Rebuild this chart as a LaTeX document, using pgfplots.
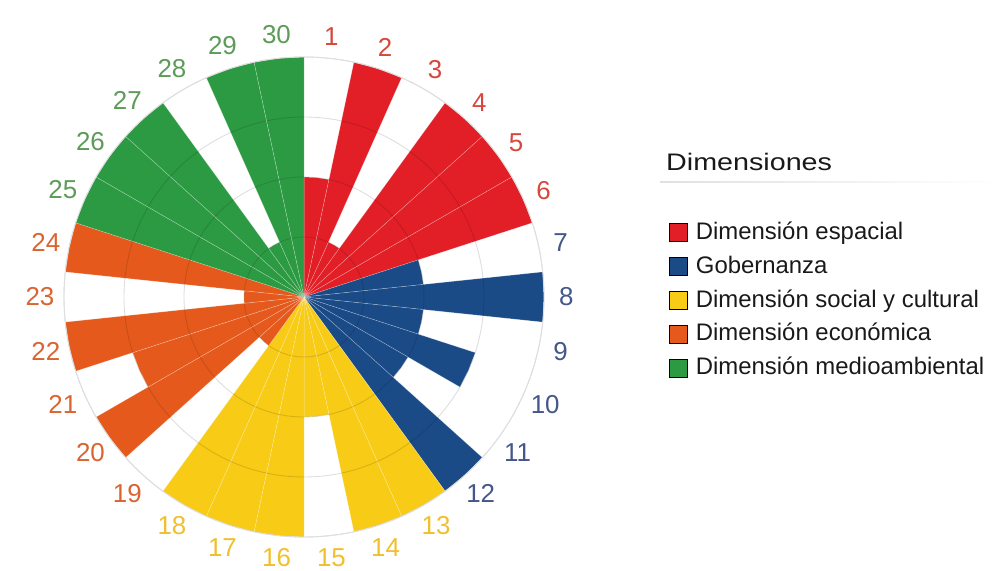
\documentclass[border=0pt]{standalone}
\usepackage{fontspec}
\setmainfont{Liberation Sans}
\newfontfamily\widefont[FakeStretch=1.2]{Liberation Sans}
\usepackage{pgfplots}
\pgfplotsset{compat=1.18}
\usepgfplotslibrary{polar}

% dimension colours (sectors)
\definecolor{espacial}{HTML}{E21E26}
\definecolor{gobernanza}{HTML}{1B4B87}
\definecolor{social}{HTML}{F8CB16}
\definecolor{economica}{HTML}{E55A1C}
\definecolor{ambiental}{HTML}{2C9A43}
% dimension colours (numbers round the rim)
\definecolor{espacialT}{HTML}{D6473D}
\definecolor{gobernanzaT}{HTML}{43578A}
\definecolor{socialT}{HTML}{F0BF2E}
\definecolor{economicaT}{HTML}{DA6431}
\definecolor{ambientalT}{HTML}{5C9B58}

\pgfplotsset{
  sector/.style={forget plot, fill=#1, draw=white, draw opacity=0.35, line width=0.5bp},
}

\begin{document}
\begin{tikzpicture}[x=1bp,y=1bp]
\path (0,0) rectangle (1003,568);
\begin{polaraxis}[
  at={(304bp,271bp)}, anchor=origin,
  scale only axis, width=480bp, height=480bp,
  xmin=0, xmax=360, ymin=0, ymax=4,
  xtick=\empty, ytick={1,2,3,4}, yticklabels={},
  major tick length=0pt,
  ymajorgrids, xmajorgrids=false,
  major grid style={draw=black, opacity=0.13, line width=0.9bp},
  axis line style={draw=black!13, line width=0.9bp},
  y axis line style={draw=none},
  axis on top, clip=false,
  legend style={at={(1.26,0.66)}, anchor=north west, draw=none, fill=none,
    font=\fontsize{24}{28}\selectfont, text=black!90, row sep=11.8bp,
    inner sep=0pt, nodes={inner sep=1.5bp, anchor=base west}},
  legend cell align=left,
  legend image code/.code={\fill[#1] (0bp,-2bp) rectangle (18bp,16bp);
    \path (25bp,0bp);},
]
\addlegendimage{fill=espacial}   \addlegendentry{Dimensión espacial}
\addlegendimage{fill=gobernanza} \addlegendentry{Gobernanza}
\addlegendimage{fill=social}     \addlegendentry{Dimensión social y cultural}
\addlegendimage{fill=economica}  \addlegendentry{Dimensión económica}
\addlegendimage{fill=ambiental}  \addlegendentry{Dimensión medioambiental}

% each sector: (start angle, 0) (start, value) (middle, value) (end, value) (end, 0)
% Dimensión espacial: 1-6
\addplot[sector=espacial] coordinates {(90,0) (90,2) (84,2) (78,2) (78,0)} -- cycle;
\addplot[sector=espacial] coordinates {(78,0) (78,4) (72,4) (66,4) (66,0)} -- cycle;
\addplot[sector=espacial] coordinates {(66,0) (66,1) (60,1) (54,1) (54,0)} -- cycle;
\addplot[sector=espacial] coordinates {(54,0) (54,4) (48,4) (42,4) (42,0)} -- cycle;
\addplot[sector=espacial] coordinates {(42,0) (42,4) (36,4) (30,4) (30,0)} -- cycle;
\addplot[sector=espacial] coordinates {(30,0) (30,4) (24,4) (18,4) (18,0)} -- cycle;
% Gobernanza: 7-12
\addplot[sector=gobernanza] coordinates {(18,0) (18,2) (12,2) (6,2) (6,0)} -- cycle;
\addplot[sector=gobernanza] coordinates {(6,0) (6,4) (0,4) (-6,4) (-6,0)} -- cycle;
\addplot[sector=gobernanza] coordinates {(-6,0) (-6,2) (-12,2) (-18,2) (-18,0)} -- cycle;
\addplot[sector=gobernanza] coordinates {(-18,0) (-18,3) (-24,3) (-30,3) (-30,0)} -- cycle;
\addplot[sector=gobernanza] coordinates {(-30,0) (-30,2) (-36,2) (-42,2) (-42,0)} -- cycle;
\addplot[sector=gobernanza] coordinates {(-42,0) (-42,4) (-48,4) (-54,4) (-54,0)} -- cycle;
% Dimensión social y cultural: 13-18
\addplot[sector=social] coordinates {(-54,0) (-54,4) (-60,4) (-66,4) (-66,0)} -- cycle;
\addplot[sector=social] coordinates {(-66,0) (-66,4) (-72,4) (-78,4) (-78,0)} -- cycle;
\addplot[sector=social] coordinates {(-78,0) (-78,2) (-84,2) (-90,2) (-90,0)} -- cycle;
\addplot[sector=social] coordinates {(-90,0) (-90,4) (-96,4) (-102,4) (-102,0)} -- cycle;
\addplot[sector=social] coordinates {(-102,0) (-102,4) (-108,4) (-114,4) (-114,0)} -- cycle;
\addplot[sector=social] coordinates {(-114,0) (-114,4) (-120,4) (-126,4) (-126,0)} -- cycle;
% Dimensión económica: 19-24
\addplot[sector=economica] coordinates {(-126,0) (-126,1) (-132,1) (-138,1) (-138,0)} -- cycle;
\addplot[sector=economica] coordinates {(-138,0) (-138,4) (-144,4) (-150,4) (-150,0)} -- cycle;
\addplot[sector=economica] coordinates {(-150,0) (-150,3) (-156,3) (-162,3) (-162,0)} -- cycle;
\addplot[sector=economica] coordinates {(-162,0) (-162,4) (-168,4) (-174,4) (-174,0)} -- cycle;
\addplot[sector=economica] coordinates {(-174,0) (-174,1) (-180,1) (-186,1) (-186,0)} -- cycle;
\addplot[sector=economica] coordinates {(-186,0) (-186,4) (-192,4) (-198,4) (-198,0)} -- cycle;
% Dimensión medioambiental: 25-30
\addplot[sector=ambiental] coordinates {(-198,0) (-198,4) (-204,4) (-210,4) (-210,0)} -- cycle;
\addplot[sector=ambiental] coordinates {(-210,0) (-210,4) (-216,4) (-222,4) (-222,0)} -- cycle;
\addplot[sector=ambiental] coordinates {(-222,0) (-222,4) (-228,4) (-234,4) (-234,0)} -- cycle;
\addplot[sector=ambiental] coordinates {(-234,0) (-234,1) (-240,1) (-246,1) (-246,0)} -- cycle;
\addplot[sector=ambiental] coordinates {(-246,0) (-246,4) (-252,4) (-258,4) (-258,0)} -- cycle;
\addplot[sector=ambiental] coordinates {(-258,0) (-258,4) (-264,4) (-270,4) (-270,0)} -- cycle;

% item numbers round the rim
\begin{scope}[every node/.style={font=\fontsize{26}{30}\selectfont}]
\node[text=espacialT] at (axis cs:84,4.37) {1};
\node[text=espacialT] at (axis cs:72,4.37) {2};
\node[text=espacialT] at (axis cs:60,4.37) {3};
\node[text=espacialT] at (axis cs:48,4.37) {4};
\node[text=espacialT] at (axis cs:36,4.37) {5};
\node[text=espacialT] at (axis cs:24,4.37) {6};
\node[text=gobernanzaT] at (axis cs:12,4.37) {7};
\node[text=gobernanzaT] at (axis cs:0,4.37) {8};
\node[text=gobernanzaT] at (axis cs:-12,4.37) {9};
\node[text=gobernanzaT] at (axis cs:-24,4.40) {10};
\node[text=gobernanzaT] at (axis cs:-36,4.40) {11};
\node[text=gobernanzaT] at (axis cs:-48,4.40) {12};
\node[text=socialT] at (axis cs:-60,4.40) {13};
\node[text=socialT] at (axis cs:-72,4.40) {14};
\node[text=socialT] at (axis cs:-84,4.37) {15};
\node[text=socialT] at (axis cs:-96,4.37) {16};
\node[text=socialT] at (axis cs:-108,4.40) {17};
\node[text=socialT] at (axis cs:-120,4.40) {18};
\node[text=economicaT] at (axis cs:-132,4.40) {19};
\node[text=economicaT] at (axis cs:-144,4.40) {20};
\node[text=economicaT] at (axis cs:-156,4.40) {21};
\node[text=economicaT] at (axis cs:-168,4.40) {22};
\node[text=economicaT] at (axis cs:-180,4.40) {23};
\node[text=economicaT] at (axis cs:-192,4.40) {24};
\node[text=ambientalT] at (axis cs:-204,4.40) {25};
\node[text=ambientalT] at (axis cs:-216,4.40) {26};
\node[text=ambientalT] at (axis cs:-228,4.40) {27};
\node[text=ambientalT] at (axis cs:-240,4.40) {28};
\node[text=ambientalT] at (axis cs:-252,4.40) {29};
\node[text=ambientalT] at (axis cs:-264,4.40) {30};
\end{scope}
\end{polaraxis}

% legend heading with its rule
\node[anchor=base west, inner sep=0pt, text=black!90, font=\widefont\fontsize{24}{26}\selectfont]
  at (666,397) {Dimensiones};
\shade[left color=black!12, right color=white] (660,385.5) rectangle (1003,386.5);
\end{tikzpicture}
\end{document}
